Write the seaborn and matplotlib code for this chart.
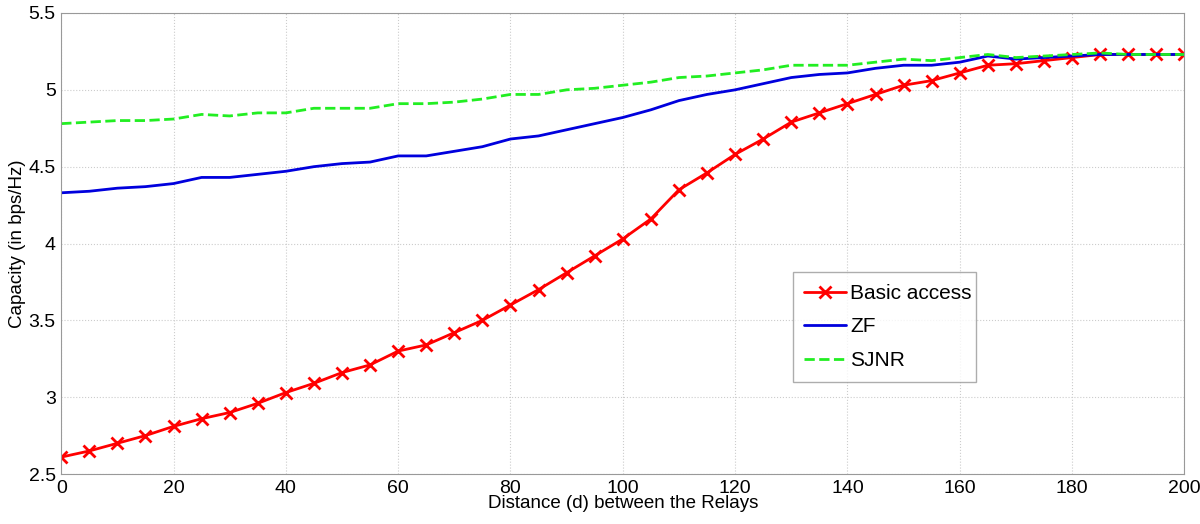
import seaborn as sns
import matplotlib.pyplot as plt
import pandas as pd

# distance between relays
distance = list(range(0, 201, 5))

basic_access = [2.61, 2.65, 2.70, 2.75, 2.81, 2.86, 2.90, 2.96, 3.03, 3.09,
                3.16, 3.21, 3.30, 3.34, 3.42, 3.50, 3.60, 3.70, 3.81, 3.92,
                4.03, 4.16, 4.35, 4.46, 4.58, 4.68, 4.79, 4.85, 4.91, 4.97,
                5.03, 5.06, 5.11, 5.16, 5.17, 5.19, 5.21, 5.23, 5.23, 5.23, 5.23]
zf = [4.33, 4.34, 4.36, 4.37, 4.39, 4.43, 4.43, 4.45, 4.47, 4.50,
      4.52, 4.53, 4.57, 4.57, 4.60, 4.63, 4.68, 4.70, 4.74, 4.78,
      4.82, 4.87, 4.93, 4.97, 5.00, 5.04, 5.08, 5.10, 5.11, 5.14,
      5.16, 5.16, 5.18, 5.22, 5.20, 5.21, 5.22, 5.23, 5.23, 5.23, 5.23]
sjnr = [4.78, 4.79, 4.80, 4.80, 4.81, 4.84, 4.83, 4.85, 4.85, 4.88,
        4.88, 4.88, 4.91, 4.91, 4.92, 4.94, 4.97, 4.97, 5.00, 5.01,
        5.03, 5.05, 5.08, 5.09, 5.11, 5.13, 5.16, 5.16, 5.16, 5.18,
        5.20, 5.19, 5.21, 5.23, 5.21, 5.22, 5.23, 5.24, 5.23, 5.23, 5.23]

df = pd.DataFrame({"d": distance, "Basic access": basic_access, "ZF": zf, "SJNR": sjnr})

sns.set_style("white")
plt.rcParams['font.family'] = ['Liberation Sans', 'DejaVu Sans']
plt.rcParams['text.color'] = 'black'
plt.rcParams['axes.labelcolor'] = 'black'

fig = plt.figure(figsize=(12, 5.24), dpi=100)
ax = fig.add_axes([0.051, 0.0954, 0.936, 0.8798])

sns.lineplot(data=df, x="d", y="Basic access", ax=ax, color="#ff0000", linewidth=2,
             linestyle="-", dashes=False, marker="x", markersize=8,
             markeredgewidth=2, markeredgecolor="#ff0000", label="Basic access")
sns.lineplot(data=df, x="d", y="ZF", ax=ax, color="#0000dd", linewidth=2, label="ZF")
sns.lineplot(data=df, x="d", y="SJNR", ax=ax, color="#22ee22", linewidth=2,
             linestyle="--", label="SJNR")

ax.set_xlim(0, 200)
ax.set_ylim(2.5, 5.5)
ax.set_xticks(range(0, 201, 20))
ax.set_yticks([2.5, 3, 3.5, 4, 4.5, 5, 5.5])
ax.set_yticklabels(["2.5", "3", "3.5", "4", "4.5", "5", "5.5"])
ax.grid(True, linestyle=":", color="#cccccc", linewidth=0.8)
for s in ax.spines.values():
    s.set_color("#999999")
ax.tick_params(axis="both", labelsize=14, direction="in", length=5,
               color="#999999", labelcolor="black")
ax.tick_params(axis="x", pad=4)
ax.tick_params(axis="y", pad=4)

ax.set_xlabel("Distance (d) between the Relays", fontsize=13.5, labelpad=-1)
ax.set_ylabel("Capacity (in bps/Hz)", fontsize=13.5, labelpad=2)

leg = ax.legend(loc="lower left", bbox_to_anchor=(0.642, 0.178, 0.182, 0.26),
                mode="expand", fontsize=15, fancybox=False, frameon=True,
                handlelength=2.0, handletextpad=0.2, labelspacing=0.7, borderpad=0.55)
leg.get_frame().set_edgecolor("#999999")
leg.get_frame().set_linewidth(1)

fig.savefig("out.png", dpi=100)
